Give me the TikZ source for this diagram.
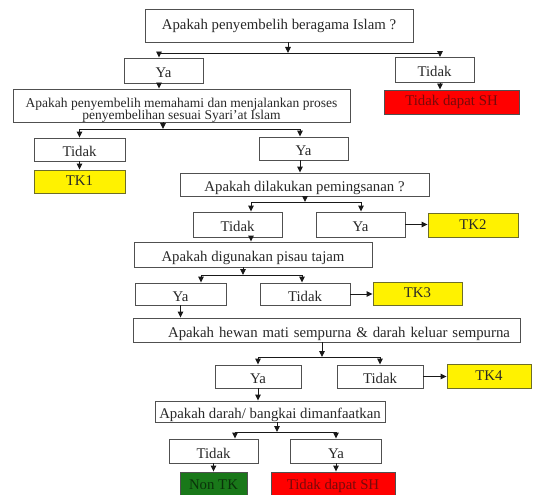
\documentclass[tikz,border=0pt]{standalone}
\usepackage{fontspec}
\setmainfont{Liberation Serif}
\usetikzlibrary{arrows.meta}
\definecolor{boxline}{RGB}{80,80,80}
\definecolor{txt}{RGB}{40,40,40}
\definecolor{yelline}{RGB}{110,110,40}
\definecolor{redtxt}{RGB}{120,10,10}
\definecolor{grnfill}{RGB}{25,120,25}
\definecolor{grntxt}{RGB}{10,50,10}
\tikzset{
  boxbase/.style={draw=boxline, line width=0.9pt, fill=white, inner sep=0pt, text=txt,
    font=\fontsize{14.8}{13}\selectfont, align=center},
  bx/.style={boxbase, text height=14pt, text depth=0pt},
  ctr/.style={boxbase, text height=11pt, text depth=3pt},
  yelbox/.style={ctr, fill=yellow, draw=yelline},
  redbox/.style={ctr, fill=red, draw=boxline, text=redtxt},
  grnbox/.style={ctr, fill=grnfill, draw=boxline, text=grntxt},
  arr/.style={draw=black!90, line width=0.9pt, -{Triangle[length=6pt,width=5.5pt]}},
  ln/.style={draw=black!90, line width=0.9pt}
}
\begin{document}
\begin{tikzpicture}[x=1pt,y=-1pt]
\useasboundingbox (0,0) rectangle (533,495);
\fill[white] (0,0) rectangle (533,495);

% nodes
\node[ctr, minimum width=268, minimum height=33] (q1) at (279,25.5) {Apakah penyembelih beragama Islam ?};
\node[bx, minimum width=79, minimum height=25] (ya1) at (163.5,70.5) {Ya};
\node[bx, minimum width=79, minimum height=25] (td1) at (434.5,70) {Tidak};
\node[redbox, minimum width=135, minimum height=24] (sh1) at (451.5,102) {Tidak dapat SH};
\node[boxbase, minimum width=337, minimum height=33, font=\fontsize{13.5}{12}\selectfont] (q2) at (181.5,105.5) {\rule{0pt}{15pt}Apakah penyembelih memahami dan menjalankan proses\\\smash{penyembelihan sesuai Syari'at Islam}};
\node[bx, minimum width=91, minimum height=23] (td2) at (79.5,149.5) {Tidak};
\node[yelbox, minimum width=91, minimum height=23] (tk1) at (79.5,181.5) {TK1};
\node[bx, minimum width=89, minimum height=23] (ya2) at (303.5,148.5) {Ya};
\node[bx, minimum width=249, minimum height=23] (q3) at (304.5,184.5) {Apakah dilakukan pemingsanan ?};
\node[bx, minimum width=89, minimum height=25] (td3) at (237.5,224.5) {Tidak};
\node[bx, minimum width=89, minimum height=25] (ya3) at (360.5,224.5) {Ya};
\node[yelbox, minimum width=90, minimum height=24] (tk2) at (473,225) {TK2};
\node[bx, minimum width=238, minimum height=25] (q4) at (253,254.5) {Apakah digunakan pisau tajam};
\node[bx, minimum width=91, minimum height=22] (ya4) at (180.5,294) {Ya};
\node[bx, minimum width=90, minimum height=22] (td4) at (305,294) {Tidak};
\node[yelbox, minimum width=89, minimum height=23] (tk3) at (417.5,293.5) {TK3};
\node[bx, minimum width=387, minimum height=24, text width=367, inner xsep=10, align=right] (q5) at (326.5,330) {Apakah hewan mati sempurna \& darah keluar sempurna};
\node[bx, minimum width=86, minimum height=23] (ya5) at (258,376.5) {Ya};
\node[bx, minimum width=86, minimum height=23] (td5) at (380,376.5) {Tidak};
\node[yelbox, minimum width=84, minimum height=24] (tk4) at (489,376) {TK4};
\node[bx, minimum width=230, minimum height=21] (q6) at (270,411.5) {Apakah darah/ bangkai dimanfaatkan};
\node[bx, minimum width=89, minimum height=24] (td6) at (213.5,451) {Tidak};
\node[bx, minimum width=91, minimum height=24] (ya6) at (336,451) {Ya};
\node[grnbox, minimum width=67, minimum height=26] (nontk) at (213.5,485) {Non TK};
\node[redbox, minimum width=124, minimum height=26] (sh2) at (333,485) {Tidak dapat SH};

% junction coordinates
\coordinate (j1m) at (288,53);  \coordinate (j1l) at (159,53);  \coordinate (j1r) at (440,53);
\coordinate (j2m) at (163,129); \coordinate (j2l) at (79.5,129); \coordinate (j2r) at (300,129);
\coordinate (j3m) at (305,202); \coordinate (j3l) at (251,202); \coordinate (j3r) at (361,202);
\coordinate (j4m) at (243,275); \coordinate (j4l) at (201,275); \coordinate (j4r) at (302,275);
\coordinate (j5m) at (322,357); \coordinate (j5l) at (258,357); \coordinate (j5r) at (380,357);
\coordinate (j6m) at (277,432); \coordinate (j6l) at (235,432); \coordinate (j6r) at (336,432);

% level 1
\draw[arr] (q1.south -| j1m) -- (j1m);
\draw[ln] (j1l) -- (j1r);
\draw[arr] (j1l) -- (j1l |- ya1.north);
\draw[arr] (j1r) -- (j1r |- td1.north);
\draw[arr] (td1.south -| j1r) -- (j1r |- sh1.north);
\draw[arr] (ya1.south -| j1l) -- (j1l |- q2.north);

% level 2
\draw[arr] (q2.south -| j2m) -- (j2m);
\draw[ln] (j2l) -- (j2r);
\draw[arr] (j2l) -- (j2l |- td2.north);
\draw[arr] (j2r) -- (j2r |- ya2.north);
\draw[arr] (td2.south) -- (tk1.north);
\draw[arr] (ya2.south -| j2r) -- (j2r |- q3.north);

% level 3
\draw[arr] (q3.south -| j3m) -- (j3m);
\draw[ln] (j3l) -- (j3r);
\draw[arr] (j3l) -- (j3l |- td3.north);
\draw[arr] (j3r) -- (j3r |- ya3.north);
\draw[arr] (ya3.east) -- (tk2.west |- ya3.east);
\draw[arr] (td3.south -| j3l) -- (j3l |- q4.north);

% level 4
\draw[arr] (q4.south -| j4m) -- (j4m);
\draw[ln] (j4l) -- (j4r);
\draw[arr] (j4l) -- (j4l |- ya4.north);
\draw[arr] (j4r) -- (j4r |- td4.north);
\draw[arr] (td4.east) -- (tk3.west |- td4.east);
\draw[arr] (ya4.south) -- (ya4.south |- q5.north);

% level 5
\draw[arr] (q5.south -| j5m) -- (j5m);
\draw[ln] (j5l) -- (j5r);
\draw[arr] (j5l) -- (j5l |- ya5.north);
\draw[arr] (j5r) -- (j5r |- td5.north);
\draw[arr] (td5.east) -- (tk4.west |- td5.east);
\draw[arr] (ya5.south) -- (ya5.south |- q6.north);

% level 6
\draw[arr] (q6.south -| j6m) -- (j6m);
\draw[ln] (j6l) -- (j6r);
\draw[arr] (j6l) -- (j6l |- td6.north);
\draw[arr] (j6r) -- (j6r |- ya6.north);
\draw[arr] (td6.south) -- (td6.south |- nontk.north);
\draw[arr] (ya6.south) -- (ya6.south |- sh2.north);
\end{tikzpicture}
\end{document}
